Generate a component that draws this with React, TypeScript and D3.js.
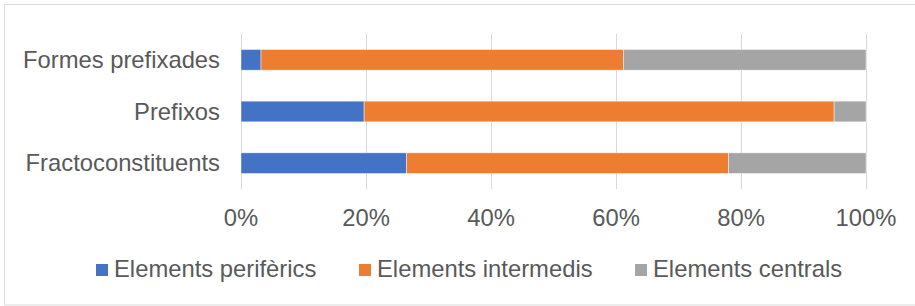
import React, { useEffect, useRef } from 'react';
import * as d3 from 'd3';

const categories = ['Formes prefixades', 'Prefixos', 'Fractoconstituents'];
const seriesNames = ['Elements perifèrics', 'Elements intermedis', 'Elements centrals'];
const perifericsValues = [3.2, 19.7, 26.5];
const intermedisValues = [58.0, 75.2, 51.5];
const centralsValues = [38.8, 5.1, 22.0];
const seriesColors = ['#4472c4', '#ed7d31', '#a5a5a5'];
const tickValues = [0, 20, 40, 60, 80, 100];

const App = () => {
  const svgRef = useRef<SVGSVGElement>(null);

  useEffect(() => {
    const width = 915;
    const height = 306;
    const marginLeft = 241;
    const marginRight = 49;
    const marginTop = 34;
    const plotBottom = 189;
    const font = "'Liberation Sans', Arial, sans-serif";
    const fontSize = 23.8;
    const textColor = '#595959';

    const svg = d3.select(svgRef.current);
    svg.selectAll('*').remove();

    // chart border (right edge is cut off in the original)
    svg.append('rect')
      .attr('x', 4.5)
      .attr('y', 4.5)
      .attr('width', width + 10)
      .attr('height', 300.5)
      .attr('fill', '#fff')
      .attr('stroke', '#d9d9d9')
      .attr('stroke-width', 1);

    const x = d3.scaleLinear()
      .domain([0, 100])
      .range([marginLeft, width - marginRight]);

    const y = d3.scaleBand()
      .domain(categories)
      .range([marginTop, plotBottom])
      .paddingInner(0.6)
      .paddingOuter(0.3);

    // gridlines
    svg.append('g')
      .selectAll('line')
      .data(tickValues)
      .join('line')
      .attr('x1', d => Math.round(x(d)) + 0.5)
      .attr('x2', d => Math.round(x(d)) + 0.5)
      .attr('y1', marginTop)
      .attr('y2', plotBottom)
      .attr('stroke', '#d9d9d9')
      .attr('stroke-width', 1);

    // stacked data
    const rows = categories.map((c, i) => ({
      category: c,
      s0: perifericsValues[i],
      s1: intermedisValues[i],
      s2: centralsValues[i],
    }));
    const stack = d3.stack<any>().keys(['s0', 's1', 's2']);
    const layers = stack(rows);

    layers.forEach((layer, li) => {
      svg.append('g')
        .selectAll('rect')
        .data(layer)
        .join('rect')
        .attr('x', d => x(d[0]))
        .attr('width', d => x(d[1]) - x(d[0]))
        .attr('y', d => y(d.data.category)!)
        .attr('height', y.bandwidth())
        .attr('fill', seriesColors[li])
        .attr('stroke', '#fff')
        .attr('stroke-opacity', 0.6)
        .attr('stroke-width', 0.75);
    });

    // category labels
    svg.append('g')
      .selectAll('text')
      .data(categories)
      .join('text')
      .attr('x', 220)
      .attr('y', d => y(d)! + y.bandwidth() / 2)
      .attr('dy', '0.35em')
      .attr('text-anchor', 'end')
      .attr('font-family', font)
      .attr('font-size', fontSize)
      .attr('fill', textColor)
      .text(d => d);

    // x tick labels
    svg.append('g')
      .selectAll('text')
      .data(tickValues)
      .join('text')
      .attr('x', d => x(d))
      .attr('y', 226)
      .attr('text-anchor', 'middle')
      .attr('font-family', font)
      .attr('font-size', fontSize)
      .attr('fill', textColor)
      .text(d => `${d}%`);

    // legend
    const legendX = [96, 359, 635];
    const legend = svg.append('g')
      .selectAll('g')
      .data(seriesNames)
      .join('g')
      .attr('transform', (d, i) => `translate(${legendX[i]},0)`);

    legend.append('rect')
      .attr('x', 0)
      .attr('y', 264)
      .attr('width', 12)
      .attr('height', 12)
      .attr('fill', (d, i) => seriesColors[i]);

    legend.append('text')
      .attr('x', 18)
      .attr('y', 277)
      .attr('font-family', font)
      .attr('font-size', fontSize)
      .attr('fill', textColor)
      .text(d => d);
  }, []);

  return (
    <svg
      ref={svgRef}
      width={915}
      height={306}
      style={{ position: 'absolute', left: 0, top: 0, display: 'block' }}
    />
  );
};

export default App;
